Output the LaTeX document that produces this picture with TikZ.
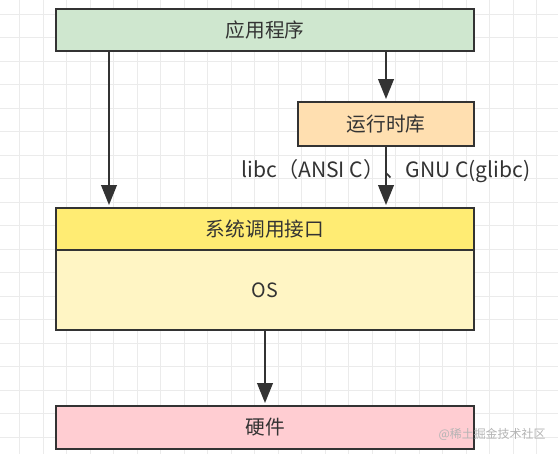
\documentclass[tikz,border=0pt]{standalone}
\usepackage{fontspec}
\setmainfont{Noto Sans CJK SC}
\usetikzlibrary{arrows.meta,positioning}
\definecolor{ink}{HTML}{333333}
\definecolor{gridgray}{HTML}{EBEBEB}
\definecolor{appgreen}{HTML}{CFE7CF}
\definecolor{liborange}{HTML}{FFDFB0}
\definecolor{callyellow}{HTML}{FFEC73}
\definecolor{ospale}{HTML}{FFF5C4}
\definecolor{hwpink}{HTML}{FFCDD2}
\definecolor{marktext}{HTML}{B4B4B4}
\tikzset{>={Triangle[length=5mm,width=3.8mm]},
  every node/.style={font=\fontsize{14}{16}\selectfont,text=ink},
  gridline/.style={draw=gridgray,line width=.6pt},
  layer/.style={draw=ink,line width=2pt,minimum width=10.45cm,inner sep=0pt},
  flow/.style={->,draw=ink,line width=2.1pt,shorten >=1pt}}

\begin{document}
\begin{tikzpicture}[x=0.025cm,y=-0.025cm]
\path[use as bounding box,fill=white] (0,0) rectangle (558,454);

\foreach \i in {0,...,23} \draw[gridline] (19.5+23.5*\i,0)--(19.5+23.5*\i,454);
\foreach \j in {0,...,19} \draw[gridline] (0,14.3+23.5*\j)--(558,14.3+23.5*\j);

\node[layer,fill=appgreen,minimum height=1.05cm] (app) at (265,30) {应用程序};
\node[layer,fill=liborange,minimum width=4.4cm,minimum height=1.1cm] (rtlib) at (386,124) {运行时库};
\node[layer,fill=callyellow,minimum height=1.05cm] (syscall) at (265,229) {系统调用接口};
\node[layer,fill=ospale,minimum height=2cm] (os) at (265,290) {OS};
\node[layer,fill=hwpink,minimum height=1.075cm] (hw) at (265,427.5) {硬件};
\coordinate (lx) at (109,0);

\draw[flow] (app.south -| lx)--(syscall.north -| lx);
\draw[flow] (app.south -| rtlib)--(rtlib.north);
\draw[flow] (rtlib.south)--(syscall.north -| rtlib) node[pos=.4,font=\fontsize{15}{17}\selectfont] (liblabel) {libc（ANSI C）、GNU C(glibc)};
\draw[flow] (os.south)--(hw.north);

\node[text=marktext,font=\fontsize{8.5}{10}\selectfont] (mark) at (492,434) {@稀土掘金技术社区};
\end{tikzpicture}
\end{document}
